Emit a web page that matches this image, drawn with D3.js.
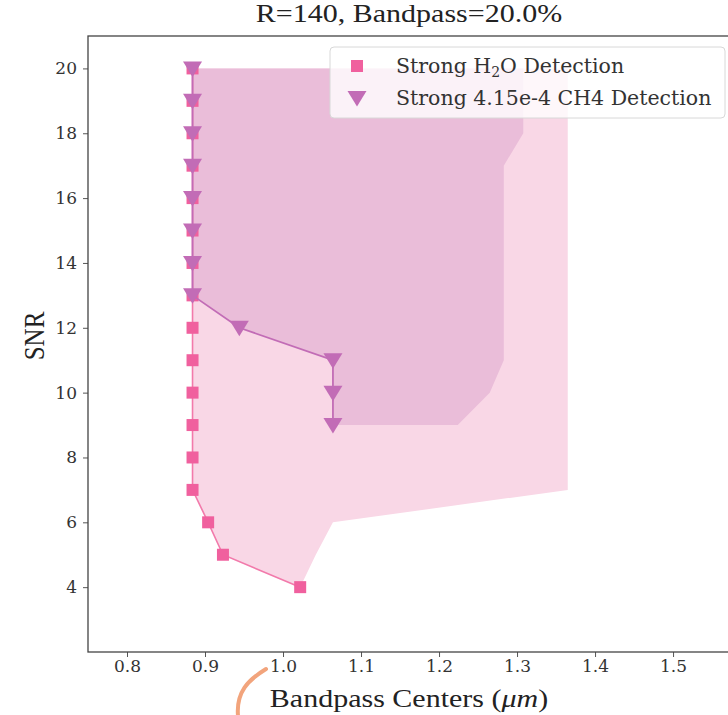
<!DOCTYPE html>
<html>
<head>
<meta charset="utf-8">
<script src="https://cdn.jsdelivr.net/npm/d3@7"></script>
<style>
  html, body { margin: 0; padding: 0; background: #fff; }
  svg { display: block; }
</style>
</head>
<body>
<svg id="chart" width="728" height="715"></svg>
<script>
// SNR levels and the bandpass centers where each detection first becomes strong
const snrH2O = [4, 5, 6, 7, 8, 9, 10, 11, 12, 13, 14, 15, 16, 17, 18, 19, 20];
const h2oCenters = [1.022, 0.923, 0.904, 0.884, 0.884, 0.884, 0.884, 0.884, 0.884, 0.884, 0.884, 0.884, 0.884, 0.884, 0.884, 0.884, 0.884];
const h2oUpper = [1.022, 1.042, 1.064, 1.365, 1.365, 1.365, 1.365, 1.365, 1.365, 1.365, 1.365, 1.365, 1.365, 1.365, 1.365, 1.365, 1.365];

const snrCH4 = [9, 10, 11, 12, 13, 14, 15, 16, 17, 18, 19, 20];
const ch4Centers = [1.064, 1.064, 1.064, 0.944, 0.884, 0.884, 0.884, 0.884, 0.884, 0.884, 0.884, 0.884];
const ch4Upper = [1.224, 1.265, 1.283, 1.283, 1.283, 1.283, 1.283, 1.283, 1.283, 1.308, 1.308, 1.308];

const xTicks = [0.8, 0.9, 1.0, 1.1, 1.2, 1.3, 1.4, 1.5];
const yTicks = [4, 6, 8, 10, 12, 14, 16, 18, 20];

const titleText = "R=140, Bandpass=20.0%";

const svg = d3.select("#chart");
const plotLeft = 88, plotRight = 730, plotTop = 36, plotBottom = 652;

const x = d3.scaleLinear().domain([0.75, 1.573]).range([plotLeft, plotRight]);
const y = d3.scaleLinear().domain([2, 21]).range([plotBottom, plotTop]);

const h2o = snrH2O.map((s, i) => ({ snr: s, lo: h2oCenters[i], hi: h2oUpper[i] }));
const ch4 = snrCH4.map((s, i) => ({ snr: s, lo: ch4Centers[i], hi: ch4Upper[i] }));

const colH2O = "#f0609e", colCH4 = "#c26cb6";
const fillH2O = "#f9d7e6", fillCH4 = "#eabdd9";

svg.append("defs").append("clipPath").attr("id", "plotclip")
  .append("rect").attr("x", plotLeft).attr("y", plotTop)
  .attr("width", plotRight - plotLeft).attr("height", plotBottom - plotTop);

const plot = svg.append("g").attr("clip-path", "url(#plotclip)");

const band = d3.area()
  .y(d => y(d.snr))
  .x0(d => x(d.lo))
  .x1(d => x(d.hi));

plot.append("path").datum(h2o).attr("d", band).attr("fill", fillH2O);
plot.append("path").datum(ch4).attr("d", band).attr("fill", fillCH4);

const edge = d3.line().x(d => x(d.lo)).y(d => y(d.snr));

plot.append("path").datum(h2o).attr("d", edge)
  .attr("fill", "none").attr("stroke", "#f27aab").attr("stroke-width", 1.6);
plot.selectAll("rect.h2o").data(h2o).join("rect").attr("class", "h2o")
  .attr("x", d => x(d.lo) - 6).attr("y", d => y(d.snr) - 6)
  .attr("width", 12).attr("height", 12).attr("fill", colH2O);

plot.append("path").datum(ch4).attr("d", edge)
  .attr("fill", "none").attr("stroke", colCH4).attr("stroke-width", 1.8);

const tri = (cx, cy) => `M${cx - 9.5},${cy - 7} L${cx + 9.5},${cy - 7} L${cx},${cy + 8.5} Z`;
plot.selectAll("path.ch4").data(ch4).join("path").attr("class", "ch4")
  .attr("d", d => tri(x(d.lo), y(d.snr))).attr("fill", colCH4);

// axes
const tickFont = "'DejaVu Serif', serif";
const xAxis = svg.append("g").attr("transform", `translate(0,${plotBottom})`)
  .call(d3.axisBottom(x).tickValues(xTicks).tickFormat(d3.format(".1f")).tickSize(5).tickPadding(3));
const yAxis = svg.append("g").attr("transform", `translate(${plotLeft},0)`)
  .call(d3.axisLeft(y).tickValues(yTicks).tickFormat(d3.format("d")).tickSize(5).tickPadding(6));
[xAxis, yAxis].forEach(a => {
  a.select(".domain").remove();
  a.selectAll(".tick line").attr("stroke", "#555").attr("stroke-width", 1);
  a.selectAll(".tick text").attr("fill", "#333")
    .style("font-family", tickFont).style("font-size", "17px");
});

// frame
svg.append("rect").attr("x", plotLeft).attr("y", plotTop)
  .attr("width", plotRight - plotLeft).attr("height", plotBottom - plotTop)
  .attr("fill", "none").attr("stroke", "#444").attr("stroke-width", 1.3);

// titles (serif face, widened slightly)
const labelFont = "'Liberation Serif', 'Times New Roman', serif";
const midX = (plotLeft + plotRight) / 2;
svg.append("text").attr("transform", `translate(${midX},22) scale(1.2,1)`)
  .attr("text-anchor", "middle").attr("fill", "#222")
  .style("font-family", labelFont).style("font-size", "25px").text(titleText);
svg.append("text").attr("transform", `translate(${midX},707) scale(1.2,1)`)
  .attr("text-anchor", "middle").attr("fill", "#222")
  .style("font-family", labelFont).style("font-size", "25px")
  .call(t => {
    t.append("tspan").text("Bandpass Centers (");
    t.append("tspan").style("font-style", "italic").text("μm");
    t.append("tspan").text(")");
  });
svg.append("text").attr("transform", `translate(44,336) rotate(-90) scale(1,1.15)`)
  .attr("text-anchor", "middle").attr("fill", "#222")
  .style("font-family", labelFont).style("font-size", "25px").text("SNR");

// legend
const lg = svg.append("g").attr("transform", "translate(330,47)");
lg.append("rect").attr("width", 395).attr("height", 71).attr("rx", 4)
  .attr("fill", "rgba(255,255,255,0.8)").attr("stroke", "#d8d8d8").attr("stroke-width", 1);
lg.append("rect").attr("x", 21).attr("y", 13).attr("width", 12).attr("height", 12).attr("fill", colH2O);
lg.append("path").attr("d", tri(27, 51)).attr("fill", colCH4);
const legFont = "'DejaVu Serif', serif";
lg.append("text").attr("x", 66).attr("y", 26).attr("fill", "#333")
  .style("font-family", legFont).style("font-size", "20.5px")
  .call(t => {
    t.append("tspan").text("Strong H");
    t.append("tspan").attr("dy", 4).style("font-size", "14px").text("2");
    t.append("tspan").attr("dy", -4).text("O Detection");
  });
lg.append("text").attr("x", 66).attr("y", 58).attr("fill", "#333")
  .style("font-family", legFont).style("font-size", "20.5px")
  .text("Strong 4.15e-4 CH4 Detection");

// hand-drawn pen stroke below the axis
svg.append("path").attr("d", "M266,669 C248,680 236,692 238,716")
  .attr("fill", "none").attr("stroke", "#f2a47c").attr("stroke-width", 4)
  .attr("stroke-linecap", "round");
</script>
</body>
</html>
